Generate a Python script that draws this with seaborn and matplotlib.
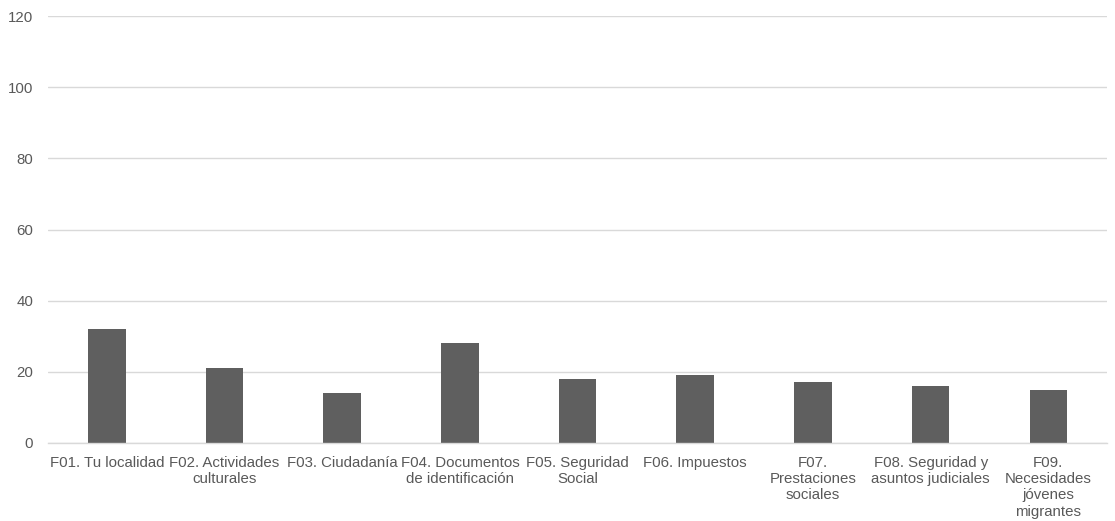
import matplotlib
matplotlib.use("Agg")
import matplotlib.pyplot as plt
import seaborn as sns
import pandas as pd

categories = [
    "F01. Tu localidad",
    "F02. Actividades\nculturales",
    "F03. Ciudadanía",
    "F04. Documentos\nde identificación",
    "F05. Seguridad\nSocial",
    "F06. Impuestos",
    "F07.\nPrestaciones\nsociales",
    "F08. Seguridad y\nasuntos judiciales",
    "F09.\nNecesidades\njóvenes\nmigrantes",
]
values = [32, 21, 14, 28, 18, 19, 17, 16, 15]
y_ticks = [0, 20, 40, 60, 80, 100, 120]

df = pd.DataFrame({"categoria": categories, "valor": values})

sns.set_theme(style="white")
plt.rcParams["font.family"] = ["Liberation Sans", "DejaVu Sans"]

fig = plt.figure(figsize=(11.15, 5.21), dpi=100)
ax = fig.add_axes([0.043, 0.150, 0.950, 0.819])

sns.barplot(data=df, x="categoria", y="valor", color="#5f5f5f",
            saturation=1, width=0.32, ax=ax, edgecolor="none")

ax.set_ylim(0, 120)
ax.set_yticks(y_ticks)
ax.set_xlim(-0.5, len(categories) - 0.5)
ax.yaxis.grid(True, color="#d9d9d9", linewidth=1)
ax.set_axisbelow(True)
for side in ["left", "right", "top"]:
    ax.spines[side].set_visible(False)
ax.spines["bottom"].set_color("#d9d9d9")
ax.spines["bottom"].set_linewidth(1)

ax.tick_params(axis="both", length=0, labelsize=10.8, labelcolor="#595959")
ax.tick_params(axis="y", pad=10.5)
ax.tick_params(axis="x", pad=9.5)
for lbl in ax.get_xticklabels():
    lbl.set_horizontalalignment("center")
    lbl.set_verticalalignment("top")
    lbl.set_linespacing(1.2)
ax.set_xlabel("")
ax.set_ylabel("")

fig.savefig("out.png", dpi=100)
